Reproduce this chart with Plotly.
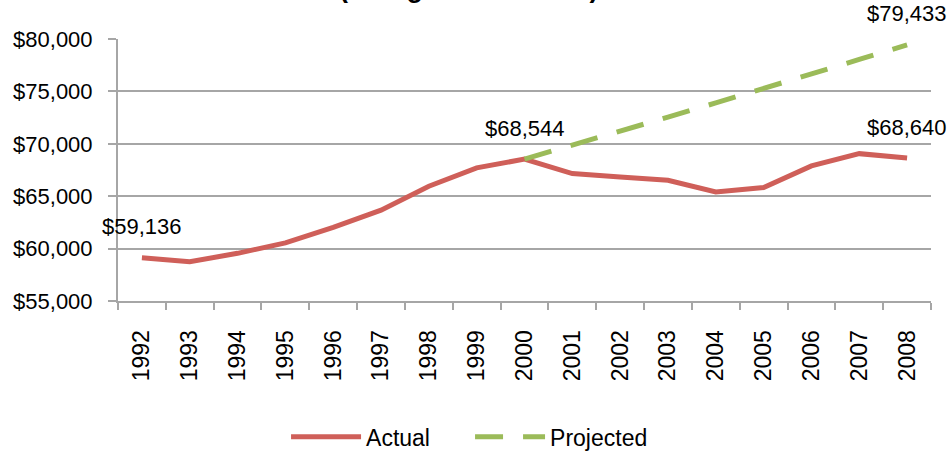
import plotly.graph_objects as go

years = [str(y) for y in range(1992, 2009)]
actual = [59136, 58750, 59550, 60550, 62020, 63670, 65950, 67700, 68544,
          67160, 66840, 66520, 65410, 65830, 67890, 69060, 68640]
proj_years = [str(y) for y in range(2000, 2009)]
projected = [68544, 69850, 71200, 72550, 73900, 75250, 76650, 78050, 79433]

actual_labels = {"1992": "$59,136", "2000": "$68,544", "2008": "$68,640"}
proj_labels = {"2008": "$79,433"}

yticks = [55000, 60000, 65000, 70000, 75000, 80000]
ytick_text = ["$55,000", "$60,000", "$65,000", "$70,000", "$75,000", "$80,000"]

FONT = "Liberation Sans"
RED = "#CF5F59"
GREEN = "#9BBB59"
GRID = "#A6A6A6"

fig = go.Figure()
fig.add_trace(go.Scatter(x=years, y=actual, mode="lines", name="Actual",
                         line=dict(color=RED, width=5)))
fig.add_trace(go.Scatter(x=proj_years, y=projected, mode="lines", name="Projected",
                         line=dict(color=GREEN, width=5, dash="28px,20px")))

annotations = []
for yr, txt in actual_labels.items():
    annotations.append(dict(x=years.index(yr), y=actual[years.index(yr)], text=txt,
                            showarrow=False, yshift=31,
                            font=dict(family=FONT, size=22, color="#000")))
for yr, txt in proj_labels.items():
    annotations.append(dict(x=years.index(yr), y=projected[proj_years.index(yr)], text=txt,
                            showarrow=False, yshift=31,
                            font=dict(family=FONT, size=22, color="#000")))
annotations.append(dict(xref="paper", yref="paper", x=0.432, y=1.128, yanchor="bottom",
                        text="<b>(Using 2008 Dollars)</b>", showarrow=False,
                        font=dict(family=FONT, size=27, color="#000")))

fig.update_layout(
    width=951, height=451,
    margin=dict(l=118, r=20, t=38.5, b=150, autoexpand=False),
    paper_bgcolor="white", plot_bgcolor="white",
    font=dict(family=FONT, size=22, color="#000"),
    showlegend=True,
    legend=dict(orientation="h", x=0.2067, xanchor="left", y=-0.518, yanchor="middle",
                font=dict(family=FONT, size=23), itemwidth=70,
                entrywidth=99, entrywidthmode="pixels"),
    annotations=annotations,
)
fig.update_xaxes(type="category", range=[-0.5, len(years) - 0.5],
                 tickson="boundaries", ticks="outside", ticklen=7,
                 tickcolor=GRID, tickwidth=2, showline=True, linecolor=GRID, linewidth=2,
                 showgrid=False, tickangle=-90, tickfont=dict(family=FONT, size=23),
                 ticklabelstandoff=18)
fig.update_yaxes(range=[55000, 80000], tickvals=yticks, ticktext=ytick_text,
                 ticks="outside", ticklen=8, tickcolor=GRID, tickwidth=2,
                 showline=True, linecolor=GRID, linewidth=2,
                 showgrid=True, gridcolor=GRID, gridwidth=2, zeroline=False,
                 tickfont=dict(family=FONT, size=22), ticklabelstandoff=11)

fig.write_html("out.html", config={"displayModeBar": False},
               post_script="document.body.style.margin='0';document.body.style.overflow='hidden';")
